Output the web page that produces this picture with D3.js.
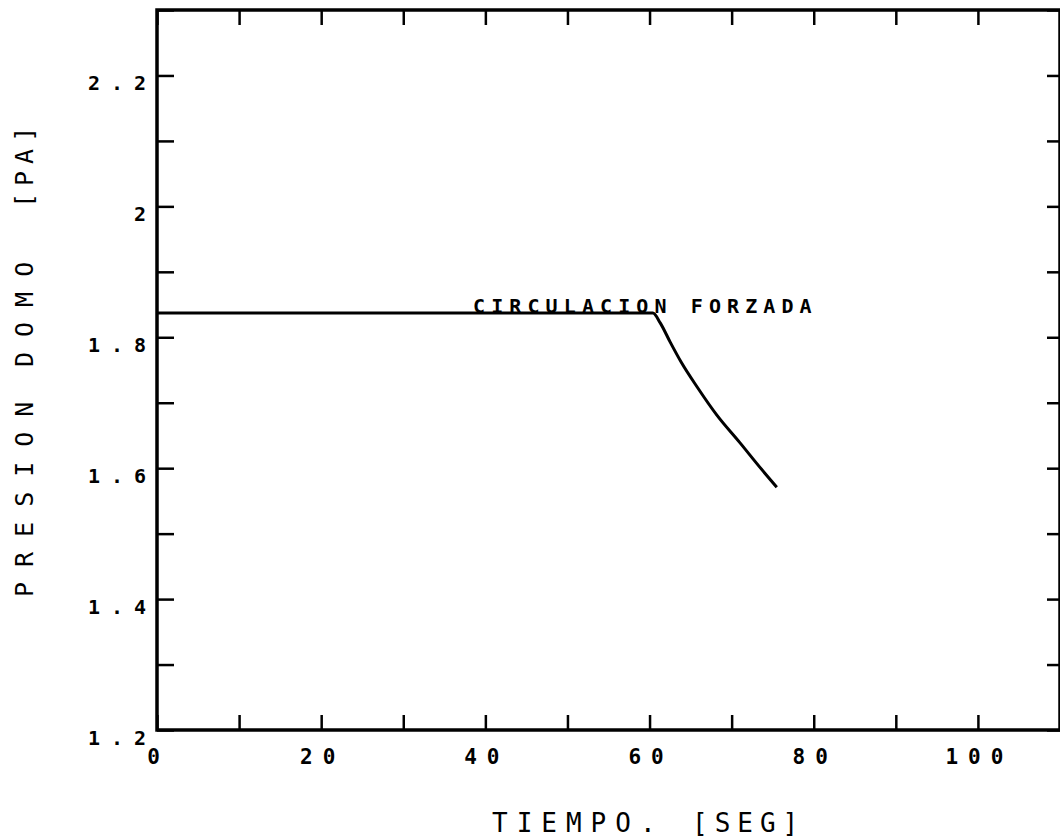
<!DOCTYPE html>
<html>
<head>
<meta charset="utf-8">
<script src="https://cdn.jsdelivr.net/npm/d3@7"></script>
<style>
  body { margin: 0; background: #fff; }
  text { font-family: "DejaVu Sans Mono", monospace; fill: #000; }
</style>
</head>
<body>
<div id="chart"></div>
<script>
// curva de presion en el domo
var tiempo  = [0, 60.4, 61.3, 62.5, 63.9, 65.8, 68.2, 71.0, 73.4, 75.5];
var presion = [1.837, 1.837, 1.822, 1.793, 1.761, 1.724, 1.681, 1.639, 1.602, 1.571];

var xTickValues = [0, 10, 20, 30, 40, 50, 60, 70, 80, 90, 100, 110];
var xTickLabels = ["0", "", "20", "", "40", "", "60", "", "80", "", "100", ""];
var yTickValues = [1.2, 1.3, 1.4, 1.5, 1.6, 1.7, 1.8, 1.9, 2.0, 2.1, 2.2, 2.3];
var yTickLabels = ["1.2", "", "1.4", "", "1.6", "", "1.8", "", "2", "", "2.2", ""];

var xTitle1 = "TIEMPO.";
var xTitle2 = "[SEG]";
var yTitleWords = ["PRESION", "DOMO", "[PA]"];
var annotation = "CIRCULACION FORZADA";

var W = 1060, H = 837;
var margin = {top: 10, right: 0, bottom: 107, left: 157};
var width = W - margin.left - margin.right,
    height = H - margin.top - margin.bottom;

var svg = d3.select("#chart")
    .append("svg")
    .attr("width", W)
    .attr("height", H);

var g = svg.append("g")
    .attr("transform", "translate(" + margin.left + "," + margin.top + ")");

var x = d3.scaleLinear().domain([0, 110]).range([0, width]);
var y = d3.scaleLinear().domain([1.2, 2.3]).range([height, 0]);

// bottom axis, ticks inward
var xb = g.append("g")
    .attr("transform", "translate(0," + height + ")")
    .call(d3.axisBottom(x).tickValues(xTickValues).tickSizeInner(-15).tickSizeOuter(0).tickPadding(19)
        .tickFormat(function(d, i) { return xTickLabels[i]; }));
xb.selectAll("text")
    .attr("font-size", 21)
    .attr("font-weight", "bold")
    .attr("letter-spacing", 10)
    .attr("dx", 1);

// top axis, ticks only
g.append("g")
    .call(d3.axisTop(x).tickValues(xTickValues).tickSizeInner(-15).tickSizeOuter(0).tickFormat(""));

// left axis
var yl = g.append("g")
    .call(d3.axisLeft(y).tickValues(yTickValues).tickSizeInner(-17).tickSizeOuter(0).tickPadding(0)
        .tickFormat(function(d, i) { return yTickLabels[i]; }));
yl.selectAll("text")
    .attr("font-size", 20)
    .attr("font-weight", "bold")
    .attr("letter-spacing", 11)
    .attr("x", 0)
    .attr("dy", "0.72em");

// right axis
g.append("g")
    .attr("transform", "translate(" + width + ",0)")
    .call(d3.axisRight(y).tickValues(yTickValues).tickSizeInner(-13).tickSizeOuter(0).tickFormat(""));

g.selectAll(".domain").remove();
g.selectAll(".tick line").attr("stroke", "#000").attr("stroke-width", 2.5);

// marco
g.append("rect")
    .attr("x", 0)
    .attr("y", 0)
    .attr("width", width)
    .attr("height", height)
    .attr("fill", "none")
    .attr("stroke", "#000")
    .attr("stroke-width", 3.5);

var pts = tiempo.map(function(t, i) { return [t, presion[i]]; });
var line = d3.line()
    .curve(d3.curveMonotoneX)
    .x(function(d) { return x(d[0]); })
    .y(function(d) { return y(d[1]); });

g.append("path")
    .datum(pts)
    .attr("d", line)
    .attr("fill", "none")
    .attr("stroke", "#000")
    .attr("stroke-width", 3)
    .attr("stroke-linejoin", "round");

g.append("text")
    .attr("x", x(38.5))
    .attr("y", y(presion[0]))
    .attr("font-size", 20)
    .attr("font-weight", "bold")
    .attr("letter-spacing", 6.1)
    .text(annotation);

// titulos
svg.append("text")
    .attr("x", 492)
    .attr("y", 832)
    .attr("font-size", 26)
    .attr("letter-spacing", 9)
    .text(xTitle1);
svg.append("text")
    .attr("x", 692)
    .attr("y", 832)
    .attr("font-size", 26)
    .attr("letter-spacing", 7)
    .text(xTitle2);

var yStarts = [597, 367, 208];
yTitleWords.forEach(function(w, i) {
    svg.append("text")
        .attr("transform", "translate(33," + yStarts[i] + ")rotate(-90)")
        .attr("font-size", 25)
        .attr("letter-spacing", i == 2 ? 7 : 15)
        .text(w);
});
</script>
</body>
</html>
